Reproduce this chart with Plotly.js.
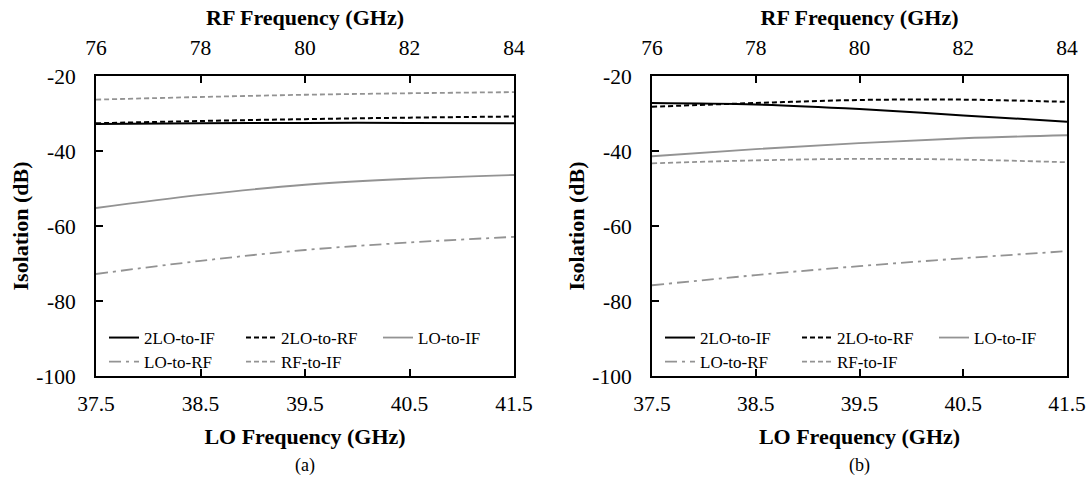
<!DOCTYPE html>
<html>
<head>
<meta charset="utf-8">
<script src="https://cdn.plot.ly/plotly-3.0.1.min.js"></script>
<style>html,body{margin:0;padding:0;background:#fff;}#chart{width:1089px;height:477px;}</style>
</head>
<body>
<div id="chart"></div>
<script>
// ---- data ----
const loFreq = [37.5, 38.5, 39.5, 40.5, 41.5];
const loTickText = ["37.5", "38.5", "39.5", "40.5", "41.5"];
const rfTicks = [76, 78, 80, 82, 84];
const rfTickText = ["76", "78", "80", "82", "84"];
const yTicks = [-100, -80, -60, -40, -20];
const yTickText = ["-100", "-80", "-60", "-40", "-20"];
const seriesNames = ["2LO-to-IF", "2LO-to-RF", "LO-to-IF", "LO-to-RF", "RF-to-IF"];

// panel (a)
const a_2LO_IF = [-32.8, -32.6, -32.5, -32.5, -32.6];
const a_2LO_RF = [-32.6, -32.0, -31.5, -31.1, -30.8];
const a_LO_IF  = [-55.2, -51.7, -49.0, -47.4, -46.4];
const a_LO_RF  = [-72.8, -69.3, -66.4, -64.4, -62.9];
const a_RF_IF  = [-26.3, -25.6, -25.0, -24.6, -24.3];

// panel (b)
const b_2LO_IF = [-27.2, -27.6, -28.8, -30.5, -32.2];
const b_2LO_RF = [-28.2, -27.2, -26.4, -26.3, -26.9];
const b_LO_IF  = [-41.4, -39.5, -37.9, -36.6, -35.8];
const b_LO_RF  = [-75.8, -73.1, -70.7, -68.6, -66.7];
const b_RF_IF  = [-43.3, -42.5, -42.1, -42.3, -43.0];

// ---- styles ----
const GRAY = "#939393";
const styles = [
  {color: "#000", width: 2, dash: "solid"},
  {color: "#000", width: 2, dash: "5px,3px"},
  {color: GRAY, width: 1.8, dash: "solid"},
  {color: GRAY, width: 1.8, dash: "12px,5px,3px,5px"},
  {color: GRAY, width: 1.8, dash: "5px,3px"}
];
const FONT = "Liberation Serif, Times New Roman, serif";

function makeTraces(vals, xa, ya, legRow1, legRow2) {
  return vals.map((v, i) => ({
    x: loFreq, y: v, xaxis: xa, yaxis: ya,
    type: "scatter", mode: "lines",
    name: seriesNames[i],
    line: {color: styles[i].color, width: styles[i].width, dash: styles[i].dash, shape: "spline", smoothing: 1},
    legend: i < 3 ? legRow1 : legRow2,
    hoverinfo: "skip"
  }));
}
// empty carrier trace so the top (RF frequency) axis is drawn
function topCarrier(xa, ya) {
  return {x: [rfTicks[0], rfTicks[rfTicks.length - 1]], y: [null, null], xaxis: xa, yaxis: ya,
          type: "scatter", mode: "lines", showlegend: false, hoverinfo: "skip"};
}

const data = [].concat(
  makeTraces([a_2LO_IF, a_2LO_RF, a_LO_IF, a_LO_RF, a_RF_IF], "x", "y", "legend", "legend2"),
  makeTraces([b_2LO_IF, b_2LO_RF, b_LO_IF, b_LO_RF, b_RF_IF], "x3", "y2", "legend3", "legend4"),
  [topCarrier("x2", "y"), topCarrier("x4", "y2")]
);

const W = 1089, H = 477;
const domA = [96 / W, 514 / W];
const domB = [652 / W, 1067 / W];
const domY = [1 - 376 / H, 1 - 76 / H];
const TICKSIZE = 21.5, TITLESIZE = 22;

function xBottom(dom, anchor) {
  return {
    domain: dom, anchor: anchor, range: [37.5, 41.5], automargin: false,
    tickvals: loFreq, ticktext: loTickText,
    ticks: "inside", ticklen: 7, tickwidth: 2, tickcolor: "#000",
    showline: true, linecolor: "#000", linewidth: 2, mirror: true,
    showgrid: false, zeroline: false,
    tickfont: {family: FONT, size: TICKSIZE, color: "#000"},
    ticklabelstandoff: 7,
    title: {text: "<b>LO Frequency (GHz)</b>", font: {family: FONT, size: TITLESIZE, color: "#000"}, standoff: 14}
  };
}
function xTop(over, anchor) {
  return {
    overlaying: over, anchor: anchor, side: "top", range: [76, 84], automargin: false,
    tickvals: rfTicks, ticktext: rfTickText,
    ticks: "inside", ticklen: 7, tickwidth: 2, tickcolor: "#000",
    showline: true, linecolor: "#000", linewidth: 2,
    showgrid: false, zeroline: false,
    tickfont: {family: FONT, size: TICKSIZE, color: "#000"},
    ticklabelstandoff: 10,
    title: {text: "<b>RF Frequency (GHz)</b>", font: {family: FONT, size: TITLESIZE, color: "#000"}, standoff: 5}
  };
}
function yAxis(anchor) {
  return {
    domain: domY, anchor: anchor, range: [-100, -20], automargin: false,
    tickvals: yTicks, ticktext: yTickText,
    ticks: "inside", ticklen: 7, tickwidth: 2, tickcolor: "#000",
    showline: true, linecolor: "#000", linewidth: 2, mirror: true,
    showgrid: false, zeroline: false,
    tickfont: {family: FONT, size: TICKSIZE, color: "#000"},
    ticklabelstandoff: 14,
    title: {text: "<b>Isolation (dB)</b>", font: {family: FONT, size: TITLESIZE, color: "#000"}, standoff: 2}
  };
}
function leg(xpx, ypx) {
  return {
    orientation: "h", x: xpx / W, y: 1 - ypx / H, xanchor: "left", yanchor: "middle",
    entrywidth: 92, entrywidthmode: "pixels", bgcolor: "rgba(0,0,0,0)", borderwidth: 0,
    font: {family: FONT, size: 17, color: "#000"}, tracegroupgap: 0, itemclick: false
  };
}

const layout = {
  width: W, height: H,
  margin: {l: 0, r: 0, t: 0, b: 0, autoexpand: false},
  paper_bgcolor: "#fff", plot_bgcolor: "#fff",
  showlegend: true,
  xaxis: xBottom(domA, "y"),
  xaxis2: xTop("x", "y"),
  yaxis: yAxis("x"),
  xaxis3: xBottom(domB, "y2"),
  xaxis4: xTop("x3", "y2"),
  yaxis2: yAxis("x3"),
  legend: leg(104, 338),
  legend2: leg(104, 362),
  legend3: leg(660, 338),
  legend4: leg(660, 362),
  annotations: [
    {text: "(a)", xref: "paper", yref: "paper", x: (domA[0] + domA[1]) / 2, y: 1 - 465 / H, xanchor: "center", yanchor: "middle", showarrow: false, font: {family: FONT, size: 18, color: "#000"}},
    {text: "(b)", xref: "paper", yref: "paper", x: (domB[0] + domB[1]) / 2, y: 1 - 465 / H, xanchor: "center", yanchor: "middle", showarrow: false, font: {family: FONT, size: 18, color: "#000"}}
  ]
};

Plotly.newPlot("chart", data, layout, {staticPlot: true, displayModeBar: false});
</script>
</body>
</html>
